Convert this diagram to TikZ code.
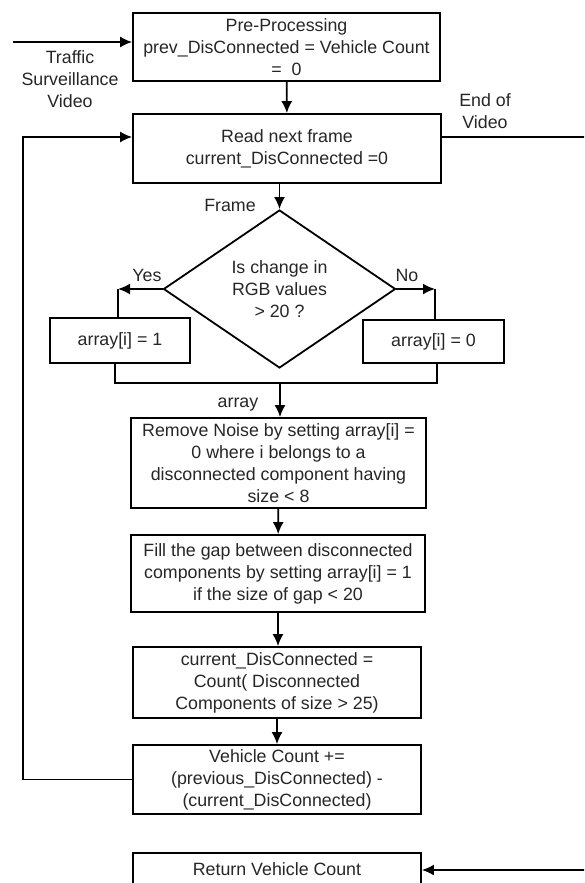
\documentclass[tikz,border=0pt]{standalone}
\usepackage{fontspec}
\setmainfont{Liberation Sans}
\usetikzlibrary{arrows.meta,shapes.geometric,positioning,calc}
\tikzset{
  basic/.style   = {draw, line width=1.8pt, font=\fontsize{17.8}{22}\selectfont, text=black!85, align=center, inner sep=0pt},
  stepbox/.style = {basic, rectangle},
  decide/.style  = {basic, diamond, aspect=1.47, minimum width=232pt, minimum height=158pt},
  lbl/.style     = {font=\fontsize{17.8}{22}\selectfont, text=black!85, align=center, inner sep=0pt},
  flow/.style    = {line width=1.7pt}
}

\begin{document}
\begin{tikzpicture}[x=1pt, y=-1pt, >={Latex[length=12pt,width=11pt]}]
  \useasboundingbox (0,0) rectangle (584,883);
  \clip (0,0) rectangle (584,883);

% main column of steps
  \node[stepbox, minimum width=307pt, minimum height=68pt] (pre) at (286.5,47)
    {Pre-Processing\\prev\_DisConnected = Vehicle Count\\=\ \ 0};
  \node[stepbox, minimum width=308pt, minimum height=69pt] (read) at (287,148.5)
    {Read next frame\\current\_DisConnected =0};
  \node[decide] (dia) at (279.5,289) {Is change in\\RGB values\\> 20 ?};
  \node[stepbox, minimum width=140pt, minimum height=45pt] (one) at (120,340.5) {array[i] = 1};
  \node[stepbox, minimum width=141pt, minimum height=43pt] (zero) at (433.5,341.5) {array[i] = 0};
  \node[stepbox, minimum width=295pt, minimum height=90pt] (noise) at (278.5,463)
    {Remove Noise by setting array[i] =\\0 where i belongs to a\\disconnected component having\\size < 8};
  \node[stepbox, minimum width=294pt, minimum height=77pt] (gap) at (278,573.5)
    {Fill the gap between disconnected\\components by setting array[i] = 1\\if the size of gap < 20};
  \node[stepbox, minimum width=288pt, minimum height=71pt] (current) at (277,682.5)
    {current\_DisConnected =\\Count( Disconnected\\Components of size > 25)};
  \node[stepbox, minimum width=288pt, minimum height=69pt] (vehicle) at (277,779.5)
    {Vehicle Count +=\\(previous\_DisConnected) -\\(current\_DisConnected)};
  \node[stepbox, minimum width=288pt, anchor=north, inner ysep=10pt, text depth=45pt] (ret) at (277,852)
    {Return Vehicle Count};

% labels on the connectors
  \node[lbl] (video) at (70,79) {Traffic\\Surveillance\\Video};
  \node[lbl] (eov) at (485,111) {End of\\Video};
  \node[lbl] (frame) at (230,205) {Frame};
  \node[lbl] (yeslbl) at (147,275) {Yes};
  \node[lbl] (nolbl) at (407,275) {No};
  \node[lbl] (arr) at (238,405) {array};

% free ends and corners
  \coordinate (in) at (13,42);
  \coordinate (loop) at (23,137);
  \coordinate (out) at (590,137);
  \coordinate (back) at (590,870);
  \coordinate (yes) at (118,289);
  \coordinate (no) at (435,289);
  \coordinate (ml) at (115,383);
  \coordinate (mr) at (437,383);
  \coordinate (mrg) at (280,383);

  \draw[flow, ->] (in) -- (in -| pre.west);
  \draw[flow, ->] (pre) -- (read);
  \draw[flow] (out -| read.east) -- (out);
  \draw[flow, ->] (dia.north |- read.south) -- (dia.north);
  \draw[flow, ->] (dia.west) -- (yes);
  \draw[flow] (yes) -- (yes |- one.north);
  \draw[flow, ->] (dia.east) -- (no);
  \draw[flow] (no) -- (no |- zero.north);
  \draw[flow] (ml |- one.south) -- (ml) -- (mr) -- (mr |- zero.south);
  \draw[flow, ->] (mrg) -- (mrg |- noise.north);
  \draw[flow, ->] (noise) -- (gap);
  \draw[flow, ->] (gap.south) -- (gap.south |- current.north);
  \draw[flow, ->] (current) -- (vehicle);
  \draw[flow, ->] (vehicle.west) -| (loop) -- (loop -| read.west);
  \draw[flow, ->] (back) -- (back -| ret.east);
\end{tikzpicture}
\end{document}
